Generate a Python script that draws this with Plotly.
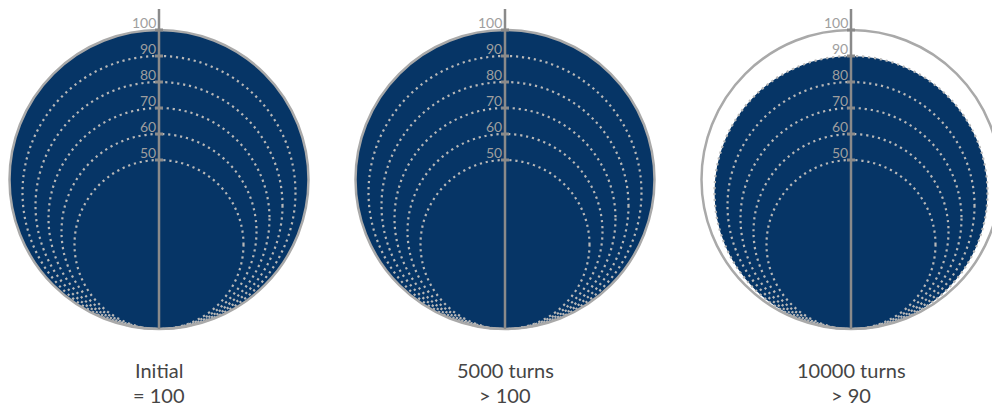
import plotly.graph_objects as go

# ---- data ----
panel_titles = ["Initial", "5000 turns", "10000 turns"]
panel_subtitles = ["= 100", "> 100", "> 90"]
panel_values = [100, 100, 90]          # filled circle value
ring_levels = [50, 60, 70, 80, 90]     # dotted reference rings
outer_level = 100                      # solid outer ring
tick_values = [50, 60, 70, 80, 90, 100]
tick_labels = ["50", "60", "70", "80", "90", "100"]

# ---- layout constants ----
W, H = 992, 407
PX = 2.6                 # pixels per value unit
BASE = -15               # value at bottom of all circles (tangent point)
Y_MIN, Y_MAX = -45, 111.54
X_MAX = W / PX
first_cx_px, spacing_px = 159, 346

BLUE = "#063566"
DOT = "#b8b8b8"
OUTER = "#a9a9a9"
AXIS = "#8a8a8a"
FONT = "Lato"

def circle(cx, v, **kw):
    r = (v - BASE) / 2
    return dict(type="circle", xref="x", yref="y",
                x0=cx - r, x1=cx + r, y0=BASE, y1=v, **kw)

shapes, annotations = [], []
for i, (title, sub, val) in enumerate(zip(panel_titles, panel_subtitles, panel_values)):
    cx = (first_cx_px + spacing_px * i) / PX
    fill_v = min(val, outer_level)
    shapes.append(circle(cx, fill_v, fillcolor=BLUE, line=dict(width=0), layer="above"))
    for lv in ring_levels:
        shapes.append(circle(cx, lv, line=dict(color=DOT, width=2.2, dash="2.2px,3.8px"), layer="above"))
    shapes.append(circle(cx, outer_level, line=dict(color=OUTER, width=2.5), layer="above"))
    # axis line
    shapes.append(dict(type="line", xref="x", yref="y", x0=cx, x1=cx,
                       y0=BASE, y1=108.1, line=dict(color=AXIS, width=2.5), layer="above"))
    for tv, tl in zip(tick_values, tick_labels):
        shapes.append(dict(type="rect", xref="x", yref="y",
                           x0=cx - 4 / PX, x1=cx + 4 / PX,
                           y0=tv - 1.5 / PX, y1=tv + 1.5 / PX,
                           fillcolor=AXIS, line=dict(width=0), layer="above"))
        annotations.append(dict(x=cx - 1.5 / PX, y=tv + 8 / PX, xref="x", yref="y",
                                text=tl, showarrow=False, xanchor="right", yanchor="middle",
                                font=dict(family=FONT, size=14, color="#9e9e9e")))
    annotations.append(dict(x=cx, y=BASE - 41 / PX, xref="x", yref="y", text=title,
                            showarrow=False, xanchor="center", yanchor="middle",
                            font=dict(family=FONT, size=20, color="#454545")))
    annotations.append(dict(x=cx, y=BASE - 66 / PX, xref="x", yref="y", text=sub,
                            showarrow=False, xanchor="center", yanchor="middle",
                            font=dict(family=FONT, size=20, color="#454545")))

fig = go.Figure(go.Scatter(x=[0], y=[0], mode="markers", marker=dict(opacity=0),
                           hoverinfo="skip", showlegend=False))
fig.update_layout(
    width=W, height=H, margin=dict(l=0, r=0, t=0, b=0),
    paper_bgcolor="white", plot_bgcolor="white",
    xaxis=dict(range=[0, X_MAX], visible=False, fixedrange=True),
    yaxis=dict(range=[Y_MIN, Y_MAX], visible=False, fixedrange=True),
    shapes=shapes, annotations=annotations, showlegend=False,
)
fig.write_html("out.html", config={"displayModeBar": False},
               post_script="document.body.style.margin='0';document.body.style.overflow='hidden';")
